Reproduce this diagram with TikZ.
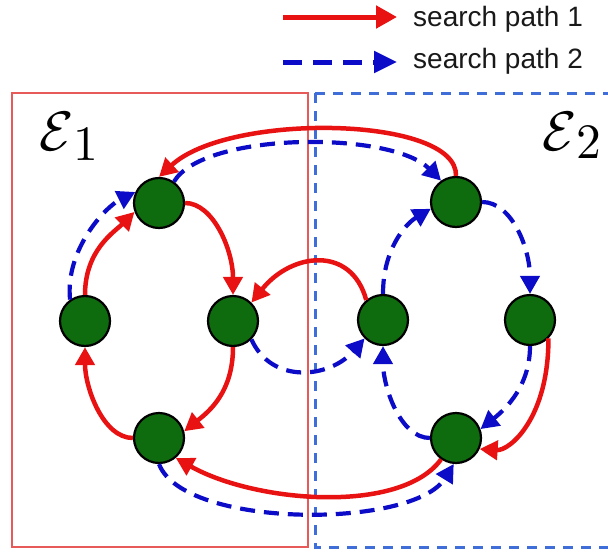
\documentclass[tikz,border=0pt]{standalone}
\usepackage{fontspec}
\setsansfont{Liberation Sans}
\usetikzlibrary{arrows.meta}

\definecolor{pathred}{RGB}{232,18,18}
\definecolor{pathblue}{RGB}{12,12,200}
\definecolor{vgreen}{RGB}{14,108,14}
\definecolor{boxred}{RGB}{232,90,90}
\definecolor{boxblue}{RGB}{64,110,216}

\begin{document}
\begin{tikzpicture}[x=1pt,y=-1pt,
  vertex/.style={circle, draw=black, line width=2.2pt, fill=vgreen,
    minimum size=50pt, inner sep=0pt},
  path1/.style={draw=pathred, line width=4.5pt,
    -{Triangle[length=18pt,width=19pt]}},
  path2/.style={draw=pathblue, line width=4.2pt, dash pattern=on 15pt off 9pt,
    -{Triangle[length=18pt,width=19pt]}},
  keyred/.style={draw=pathred, line width=5pt,
    -{Triangle[length=21pt,width=22pt]}},
  keyblue/.style={draw=pathblue, line width=5pt, dash pattern=on 19pt off 11pt,
    -{Triangle[length=23pt,width=21pt]}},
  keytext/.style={font=\sffamily\fontsize{28}{30}\selectfont,
    anchor=base west, inner sep=0pt, text=black!90},
  setlabel/.style={inner sep=0pt, anchor=base west, scale=5.56}
]
\useasboundingbox (0,0) rectangle (608,554);
\clip (0,0) rectangle (608,554);

% the two partitions
\draw[boxred, line width=2.5pt] (12,93) rectangle (308,547);
\draw[boxblue, line width=3pt, dash pattern=on 10pt off 8pt]
  (315,93) rectangle (640,547);

\node[setlabel] (e1) at (38,150) {$\mathcal{E}$\raisebox{-1.8pt}{\scalebox{0.89}{1}}};
\node[setlabel] (e2) at (541,150) {$\mathcal{E}$\raisebox{-1.5pt}{\scalebox{0.89}{2}}};

% legend
\coordinate (k1a) at (283,17);
\coordinate (k1b) at (397,17);
\coordinate (k2a) at (283,62);
\coordinate (k2b) at (397,62);
\draw[keyred] (k1a) -- (k1b);
\draw[keyblue] (k2a) -- (k2b);
\node[keytext] (t1) at (413,27) {search path 1};
\node[keytext] (t2) at (413,68) {search path 2};

% vertices
\node[vertex] (T1) at (159,203) {};
\node[vertex] (L1) at (85,321) {};
\node[vertex] (R1) at (233,321) {};
\node[vertex] (B1) at (159,438) {};
\node[vertex] (T2) at (456,202) {};
\node[vertex] (L2) at (383,320) {};
\node[vertex] (R2) at (530,320) {};
\node[vertex] (B2) at (456,438) {};

% search path 1
\draw[path1] (T2.north) .. controls +(2,-60) and +(70,-65) .. (T1.north);
\draw[path1] (L1.north) .. controls +(0,-45) and +(-20,20) .. (T1.200);
\draw[path1] (T1.east) .. controls +(28,0) and +(0,-45) .. (R1.north);
\draw[path1] (L2.130) .. controls +(-15,-55) and +(40,-50) .. (R1.45);
\draw[path1] (R1.south) .. controls +(0,45) and +(25,-20) .. (B1.15);
\draw[path1] (B1.west) .. controls +(-30,0) and +(0,40) .. (L1.south);
\draw[path1] (B2.235) .. controls +(-40,55) and +(80,45) .. (B1.-50);
\draw[path1] (R2.-45) .. controls +(0,80) and +(30,2) .. (B2.-25);

% search path 2
\draw[path2] (L1.125) .. controls +(-5,-50) and +(-30,15) .. (T1.155);
\draw[path2] (T1.55) .. controls +(30,-50) and +(-50,-50) .. (T2.125);
\draw[path2] (T2.east) .. controls +(30,0) and +(0,-45) .. (R2.north);
\draw[path2] (L2.north) .. controls +(0,-45) and +(-25,15) .. (T2.195);
\draw[path2] (R1.-45) .. controls +(20,45) and +(-35,40) .. (L2.-135);
\draw[path2] (B2.west) .. controls +(-30,0) and +(0,40) .. (L2.south);
\draw[path2] (R2.south) .. controls +(0,40) and +(25,-20) .. (B2.20);
\draw[path2] (B1.south) .. controls +(25,65) and +(-40,65) .. (B2.265);
\end{tikzpicture}
\end{document}
